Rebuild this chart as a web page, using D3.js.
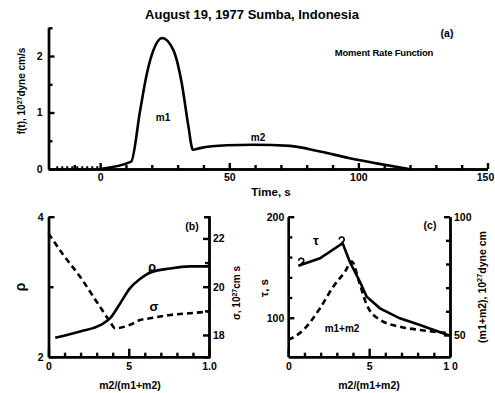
<!DOCTYPE html>
<html>
<head>
  <meta charset="UTF-8">
  <title>Sumba moment rate</title>
  <style>
    body { margin: 0; background: #fff; }
    svg { font-family: 'Liberation Sans', Arial, sans-serif; font-weight: bold; }
    .axis path, .axis line { stroke: #000; stroke-width: 2.4; }
    .axis text { font-size: 10.5px; font-weight: bold; fill: #000; }
    .curve { fill: none; stroke: #000; stroke-width: 2.6; }
    .dash { stroke-dasharray: 6,4; }
    .mark { fill: none; stroke: #000; stroke-width: 1.6; }
  </style>
</head>
<body>
  <script src="https://d3js.org/d3.v7.min.js"></script>
  <script>
    // (a) moment rate function
    var rateTime  = [0, 12, 15.5, 18.1, 20.6, 24, 28.4, 31.6, 34.2, 35.9, 38.7, 49, 59.4, 73.5, 85.1, 96.7, 107, 119.5];
    var rateValue = [0, 0.13, 1.04, 1.69, 2.1, 2.32, 2.1, 1.52, 0.75, 0.34, 0.37, 0.42, 0.43, 0.41, 0.31, 0.19, 0.10, 0];
    var baseTime  = [-17, 0];
    var baseValue = [0, 0];
    var timeMajor = [0, 50, 100, 150];
    var timeMinor = [-10, 10, 20, 30, 40, 60, 70, 80, 90, 110, 120, 130, 140];

    // (b) rho and sigma vs m2/(m1+m2)
    var rhoRatio   = [0.042, 0.197, 0.322, 0.384, 0.446, 0.508, 0.57, 0.632, 0.757, 0.882, 1.0];
    var rhoValue   = [2.27, 2.36, 2.45, 2.55, 2.76, 2.98, 3.11, 3.2, 3.26, 3.29, 3.29];
    var sigmaRatio = [0, 0.093, 0.197, 0.30, 0.384, 0.415, 0.508, 0.57, 0.632, 0.757, 0.882, 1.0];
    var sigmaValue = [22.21, 21.31, 20.41, 19.38, 18.55, 18.28, 18.42, 18.62, 18.69, 18.83, 18.9, 18.97];

    // (c) tau and m1+m2 vs m2/(m1+m2)
    var tauRatio  = [0.062, 0.196, 0.336, 0.38, 0.443, 0.485, 0.567, 0.69, 0.814, 1.0];
    var tauValue  = [151.5, 158.8, 173.7, 155.4, 135.6, 120.8, 109.3, 99.4, 92.8, 82.2];
    var sumRatio  = [0, 0.093, 0.196, 0.278, 0.351, 0.392, 0.44, 0.485, 0.567, 0.69, 0.814, 1.0];
    var sumValue  = [47.9, 52.1, 61.3, 70.4, 76.8, 81.0, 72.0, 62.7, 56.4, 53.5, 52.1, 50.7];
    var hookRatio = [0.08, 0.33];
    var hookTau   = [155, 176];

    var ratioMinor = [0.1, 0.2, 0.3, 0.4, 0.6, 0.7, 0.8, 0.9];
    var ratioMajor = [0, 0.5, 1];

    var svg = d3.select("body").append("svg")
        .attr("width", 495)
        .attr("height", 393);

    function zip(xs, ys) {
      return xs.map(function(d, i) { return [d, ys[i]]; });
    }

    function drawCurve(x, y, pts, cls, curve) {
      return svg.append("path")
        .datum(pts)
        .attr("class", cls)
        .attr("d", d3.line()
          .x(function(d) { return x(d[0]); })
          .y(function(d) { return y(d[1]); })
          .curve(curve));
    }

    function addAxis(axis, tx, ty) {
      return svg.append("g")
        .attr("class", "axis")
        .attr("transform", "translate(" + tx + "," + ty + ")")
        .call(axis);
    }

    function label(txt, x, y, size, anchor) {
      return svg.append("text")
        .attr("x", x).attr("y", y)
        .attr("font-size", size)
        .attr("text-anchor", anchor || "middle")
        .text(txt);
    }

    function vlabel(x, y, size, parts) {
      var t = svg.append("text")
        .attr("transform", "translate(" + x + "," + y + ") rotate(-90)")
        .attr("text-anchor", "middle")
        .attr("font-size", size);
      parts.forEach(function(p) {
        var s = t.append("tspan").text(p[0]);
        if (p[1]) s.attr("baseline-shift", "super").attr("font-size", size * 0.7);
      });
      return t;
    }

    function ratioAxis(x, fmt) {
      addAxis(d3.axisBottom(x).tickValues(ratioMinor).tickFormat("").tickSize(-4).tickSizeOuter(0), 0, 356.7);
      addAxis(d3.axisBottom(x).tickValues(ratioMajor).tickSize(-8).tickSizeOuter(0).tickPadding(6)
        .tickFormat(fmt), 0, 356.7);
    }

    // ---------- panel (a)
    var xa = d3.scaleLinear().domain([-20, 150]).range([48.5, 487.5]);
    var ya = d3.scaleLinear().domain([0, 2.5]).range([169, 27.8]);

    addAxis(d3.axisBottom(xa).tickValues(timeMinor).tickFormat("").tickSize(-4).tickSizeOuter(0), 0, 169);
    var timeAxis = addAxis(d3.axisBottom(xa).tickValues(timeMajor).tickSize(-6).tickSizeOuter(0).tickPadding(5), 0, 169);
    // keep the last label inside the page
    timeAxis.selectAll(".tick text").filter(function(d) { return d === 150; }).attr("dx", -2.5);
    addAxis(d3.axisLeft(ya).tickValues([0.5, 1.5, 2.5]).tickFormat("").tickSize(-4).tickSizeOuter(0), 48.5, 0);
    addAxis(d3.axisLeft(ya).tickValues([0, 1, 2]).tickFormat(d3.format("d")).tickSize(-6).tickSizeOuter(0).tickPadding(6), 48.5, 0);

    drawCurve(xa, ya, zip(baseTime, baseValue), "curve", d3.curveLinear)
      .attr("stroke-dasharray", "2,3").attr("stroke-width", 1).attr("stroke", "#777")
      .attr("transform", "translate(0,-1.5)");
    drawCurve(xa, ya, zip(rateTime, rateValue), "curve", d3.curveMonotoneX);

    label("August 19, 1977 Sumba, Indonesia", 252, 19, 13);
    label("(a)", 447, 37, 10.5);
    label("Moment Rate Function", 384, 56, 9.5).attr("letter-spacing", -0.2);
    label("m1", 163, 121, 10);
    label("m2", 258, 141, 10);
    label("Time, s", 271, 196, 11.5);
    vlabel(25, 91, 10, [["f(t), 10"], ["27", true], ["dyne cm/s"]]);

    // ---------- panel (b)
    var xb = d3.scaleLinear().domain([0, 1]).range([48.5, 209]);
    var yRho = d3.scaleLinear().domain([2, 4]).range([356.7, 216.7]);
    var ySig = d3.scaleLinear().domain([17.1, 22.9]).range([356.7, 216.7]);

    ratioAxis(xb, function(d) { return d === 0 ? "0" : d === 1 ? "1.0" : "5"; });
    addAxis(d3.axisLeft(yRho).tickValues([3]).tickFormat("").tickSize(-5).tickSizeOuter(0), 48.5, 0);
    addAxis(d3.axisLeft(yRho).tickValues([2, 4]).tickFormat(d3.format("d")).tickSize(-6).tickSizeOuter(0).tickPadding(5), 48.5, 0);
    addAxis(d3.axisRight(ySig).tickValues([19, 21]).tickFormat("").tickSize(-4).tickSizeOuter(0), 209, 0);
    addAxis(d3.axisRight(ySig).tickValues([18, 20, 22]).tickFormat(d3.format("d")).tickSize(-6).tickSizeOuter(-5).tickPadding(4), 209, 0);

    drawCurve(xb, yRho, zip(rhoRatio, rhoValue), "curve", d3.curveMonotoneX);
    drawCurve(xb, ySig, zip(sigmaRatio, sigmaValue), "curve dash", d3.curveMonotoneX);

    label("(b)", 192, 230, 10.5);
    label("\u03c1", 152, 271, 13);
    label("\u03c3", 154, 311, 13);
    label("m2/(m1+m2)", 130, 389, 10.5);
    vlabel(25, 287, 14, [["\u03c1"]]);
    vlabel(240, 293, 10, [["\u03c3, 10"], ["27", true], ["cm s"]]);

    // ---------- panel (c)
    var xc = d3.scaleLinear().domain([0, 1]).range([288.3, 450]);
    var yTau = d3.scaleLinear().domain([61.4, 200]).range([356.7, 216.7]);
    var ySum = d3.scaleLinear().domain([40.8, 100]).range([356.7, 216.7]);

    ratioAxis(xc, function(d) { return d === 0 ? "0" : d === 1 ? "1 0" : "5"; });
    addAxis(d3.axisLeft(yTau).tickValues([80, 120, 140, 160, 180]).tickFormat("").tickSize(-4).tickSizeOuter(0), 288.3, 0);
    addAxis(d3.axisLeft(yTau).tickValues([100, 200]).tickFormat(d3.format("d")).tickSize(-6).tickSizeOuter(0).tickPadding(4), 288.3, 0);
    addAxis(d3.axisRight(ySum).tickValues([60, 70, 80, 90]).tickFormat("").tickSize(-4).tickSizeOuter(0), 450, 0);
    addAxis(d3.axisRight(ySum).tickValues([50, 100]).tickFormat(d3.format("d")).tickSize(-6).tickSizeOuter(0).tickPadding(4), 450, 0);

    drawCurve(xc, yTau, zip(tauRatio, tauValue), "curve", d3.curveLinear);
    drawCurve(xc, ySum, zip(sumRatio, sumValue), "curve dash", d3.curveMonotoneX);

    // small hook-shaped point marks on the tau curve
    svg.selectAll("path.mark")
      .data(zip(hookRatio, hookTau))
      .enter().append("path")
        .attr("class", "mark")
        .attr("transform", function(d) { return "translate(" + xc(d[0]) + "," + yTau(d[1]) + ")"; })
        .attr("d", "M-2.5,-1.5 A2.5,2.5 0 1,1 0.5,1 L-1,4");

    label("(c)", 430, 229, 10.5);
    label("\u03c4", 316, 245, 13);
    label("m1+m2", 342, 332, 10);
    label("m2/(m1+m2)", 369, 389, 10.5);
    vlabel(268, 288, 11.5, [["\u03c4, s"]]);
    vlabel(486, 287, 10.5, [["(m1+m2), 10"], ["27", true], ["dyne cm"]]);
  </script>
</body>
</html>
